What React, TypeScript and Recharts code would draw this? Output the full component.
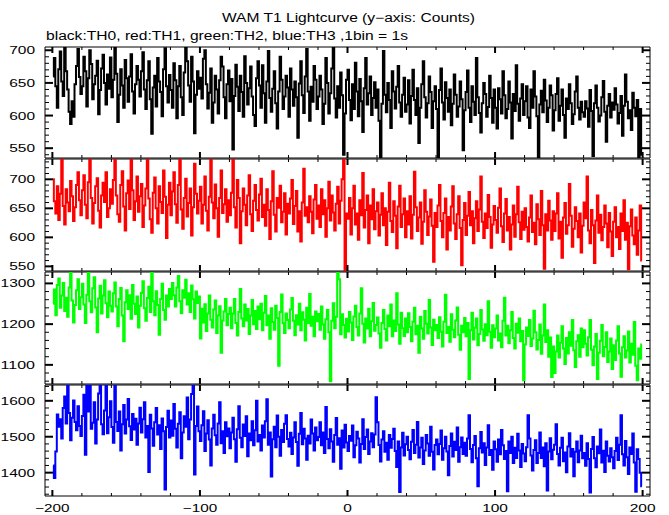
import React from 'react';
import { LineChart, Line, XAxis, YAxis, ReferenceArea } from 'recharts';

// ---- data: counts per 1 s bin, bins start at -200 s ----
const BIN_START = -200;

const th0: number[] = [
  660, 688, 645, 612, 671, 698, 652, 630, 705, 668, 640, 606, 587, 622, 598, 648, 676, 702, 659, 633,
  645, 690, 668, 614, 657, 700, 679, 625, 648, 661, 684, 602, 639, 672, 693, 650, 617, 663, 641, 689,
  628, 655, 707, 664, 590, 632, 671, 646, 612, 685, 657, 621, 660, 694, 637, 603, 648, 676, 655, 629,
  668, 697, 640, 610, 654, 683, 625, 572, 643, 661, 614, 688, 652, 636, 599, 671, 703, 645, 620, 662,
  639, 612, 680, 654, 596, 645, 676, 628, 601, 666, 710, 683, 646, 621, 690, 652, 573, 632, 668, 641,
  658, 626, 687, 700, 648, 611, 635, 672, 589, 620, 661, 640, 603, 654, 690, 675, 628, 596, 648, 669,
  622, 656, 548, 630, 678, 644, 607, 661, 636, 598, 691, 650, 617, 642, 675, 629, 601, 584, 657, 683,
  646, 612, 677, 634, 589, 652, 699, 627, 606, 641, 668, 619, 580, 637, 690, 655, 610, 629, 661, 643,
  598, 672, 640, 615, 652, 628, 566, 649, 683, 631, 604, 660, 702, 637, 592, 644, 621, 676, 655, 610,
  629, 661, 640, 587, 618, 688, 650, 603, 634, 672, 709, 626, 597, 645, 612, 666, 631, 540, 603, 655,
  670, 624, 593, 648, 610, 681, 637, 599, 656, 622, 575, 642, 688, 617, 634, 660, 601, 627, 651, 612,
  640, 592, 534, 618, 699, 632, 605, 650, 624, 581, 668, 637, 611, 644, 676, 620, 598, 632, 658, 606,
  617, 654, 588, 630, 670, 624, 601, 642, 558, 612, 648, 683, 628, 597, 619, 660, 636, 581, 622, 645,
  610, 530, 639, 672, 620, 594, 651, 627, 606, 640, 585, 618, 663, 632, 598, 614, 652, 625, 547, 608,
  636, 669, 612, 590, 645, 621, 601, 688, 628, 604, 574, 619, 650, 633, 598, 613, 661, 627, 589, 640,
  612, 580, 642, 625, 603, 668, 631, 596, 610, 652, 620, 565, 633, 607, 677, 618, 592, 626, 648, 601,
  622, 645, 597, 581, 640, 612, 668, 629, 599, 532, 617, 638, 605, 655, 623, 590, 612, 646, 631, 577,
  608, 633, 657, 592, 615, 640, 601, 566, 626, 610, 648, 619, 587, 602, 637, 660, 612, 594, 621, 605,
  598, 622, 611, 583, 639, 607, 538, 619, 646, 612, 591, 600, 628, 653, 606, 560, 615, 633, 597, 620,
  609, 642, 617, 588, 604, 630, 569, 615, 663, 621, 596, 608, 578, 635, 612, 599, 624, 530, 610, 540,
];

const th1: number[] = [
  700, 662, 641, 688, 630, 675, 736, 654, 622, 683, 660, 645, 697, 671, 628, 652, 690, 712, 664, 638,
  681, 707, 656, 633, 695, 740, 668, 624, 659, 688, 702, 646, 617, 672, 694, 661, 712, 635, 650, 683,
  658, 699, 736, 672, 640, 627, 690, 714, 653, 612, 676, 698, 649, 737, 681, 630, 662, 705, 644, 671,
  692, 618, 655, 684, 736, 667, 631, 608, 677, 703, 650, 624, 688, 661, 642, 715, 670, 599, 656, 694,
  638, 679, 712, 657, 625, 690, 738, 648, 615, 668, 701, 636, 659, 684, 603, 652, 727, 675, 641, 663,
  687, 624, 656, 705, 646, 612, 670, 737, 660, 633, 691, 650, 601, 668, 715, 642, 657, 683, 627, 664,
  638, 677, 735, 652, 617, 699, 668, 590, 645, 684, 656, 621, 672, 707, 640, 611, 663, 690, 647, 629,
  674, 701, 635, 656, 620, 683, 647, 597, 662, 714, 639, 610, 668, 651, 689, 626, 644, 676, 605, 658,
  641, 667, 699, 623, 654, 680, 610, 645, 593, 660, 718, 637, 652, 626, 671, 644, 607, 665, 690, 632,
  655, 618, 683, 640, 664, 601, 650, 696, 629, 672, 643, 612, 658, 687, 624, 663, 700, 738, 540, 641,
  632, 668, 605, 650, 689, 622, 641, 596, 664, 638, 711, 617, 647, 672, 590, 655, 631, 683, 614, 645,
  660, 603, 639, 676, 621, 650, 587, 644, 694, 628, 609, 662, 637, 581, 653, 689, 618, 640, 667, 600,
  645, 622, 671, 598, 639, 713, 652, 611, 634, 660, 589, 627, 681, 644, 604, 636, 665, 620, 558, 642,
  618, 655, 690, 628, 600, 642, 667, 579, 635, 612, 653, 688, 624, 597, 640, 671, 616, 552, 630, 659,
  604, 637, 678, 621, 645, 590, 633, 662, 611, 648, 705, 627, 599, 641, 616, 673, 635, 582, 622, 654,
  630, 608, 651, 684, 619, 592, 641, 666, 612, 635, 579, 622, 655, 601, 640, 687, 626, 597, 644, 613,
  650, 618, 593, 634, 672, 609, 625, 588, 657, 631, 604, 680, 621, 546, 640, 612, 663, 629, 596, 645,
  611, 641, 676, 598, 627, 565, 634, 659, 606, 621, 692, 637, 584, 615, 652, 628, 600, 641, 574, 620,
  660, 633, 705, 612, 590, 647, 621, 556, 629, 672, 608, 639, 595, 618, 655, 624, 583, 642, 610, 568,
  627, 652, 600, 618, 580, 641, 611, 664, 596, 625, 545, 619, 648, 603, 588, 634, 570, 612, 655, 560,
];

const th2: number[] = [
  1250, 1285, 1222, 1296, 1312, 1240, 1270, 1301, 1232, 1265, 1218, 1290, 1330, 1258, 1204, 1247, 1283, 1310, 1237, 1266,
  1299, 1248, 1203, 1272, 1330, 1256, 1229, 1288, 1315, 1241, 1180, 1263, 1294, 1226, 1270, 1308, 1251, 1217, 1280, 1245,
  1231, 1276, 1302, 1243, 1195, 1262, 1289, 1221, 1158, 1254, 1283, 1237, 1271, 1213, 1296, 1250, 1225, 1268, 1192, 1245,
  1277, 1305, 1239, 1208, 1264, 1292, 1230, 1330, 1256, 1222, 1281, 1247, 1174, 1262, 1299, 1235, 1211, 1270, 1243, 1286,
  1262, 1301, 1271, 1243, 1290, 1318, 1256, 1227, 1283, 1265, 1309, 1248, 1276, 1230, 1295, 1261, 1214, 1280, 1252, 1268,
  1165, 1238, 1204, 1249, 1183, 1226, 1270, 1211, 1192, 1236, 1258, 1178, 1221, 1244, 1130, 1209, 1231, 1262, 1197, 1225,
  1240, 1190, 1226, 1262, 1203, 1172, 1230, 1286, 1214, 1195, 1248, 1209, 1237, 1176, 1221, 1259, 1200, 1232, 1188, 1243,
  1212, 1250, 1185, 1228, 1269, 1197, 1221, 1164, 1239, 1205, 1186, 1245, 1215, 1098, 1230, 1273, 1202, 1178, 1226, 1210,
  1190, 1236, 1264, 1208, 1173, 1222, 1199, 1250, 1185, 1229, 1211, 1160, 1240, 1203, 1274, 1196, 1218, 1170, 1231, 1207,
  1225, 1186, 1243, 1199, 1164, 1212, 1235, 1180, 1060, 1208, 1251, 1190, 1218, 1330, 1310, 1175, 1224, 1198, 1167, 1213,
  1182, 1230, 1204, 1161, 1219, 1245, 1193, 1172, 1226, 1288, 1201, 1155, 1214, 1189, 1238, 1170, 1207, 1252, 1184, 1198,
  1216, 1177, 1142, 1203, 1235, 1188, 1160, 1221, 1195, 1248, 1170, 1209, 1183, 1276, 1199, 1152, 1228, 1190, 1171, 1214,
  1180, 1227, 1193, 1158, 1206, 1240, 1175, 1196, 1130, 1218, 1189, 1164, 1232, 1201, 1177, 1259, 1192, 1149, 1211, 1185,
  1198, 1166, 1217, 1181, 1145, 1206, 1272, 1178, 1193, 1157, 1224, 1186, 1168, 1209, 1241, 1174, 1137, 1196, 1180, 1215,
  1170, 1203, 1065, 1185, 1228, 1162, 1191, 1214, 1148, 1176, 1235, 1187, 1159, 1200, 1173, 1256, 1181, 1142, 1197, 1168,
  1189, 1221, 1160, 1177, 1143, 1208, 1265, 1172, 1196, 1153, 1185, 1230, 1166, 1140, 1201, 1179, 1214, 1158, 1183, 1062,
  1150, 1192, 1171, 1210, 1146, 1165, 1233, 1180, 1138, 1161, 1199, 1127, 1172, 1248, 1156, 1185, 1120, 1167, 1070, 1145,
  1080, 1133, 1172, 1118, 1154, 1195, 1140, 1102, 1166, 1128, 1180, 1147, 1210, 1136, 1095, 1158, 1173, 1120, 1189, 1143,
  1185, 1152, 1123, 1168, 1210, 1137, 1099, 1145, 1176, 1065, 1130, 1159, 1198, 1121, 1144, 1180, 1107, 1133, 1165, 1090,
  1148, 1112, 1160, 1195, 1128, 1071, 1143, 1170, 1118, 1135, 1182, 1106, 1152, 1125, 1205, 1098, 1062, 1140, 1115, 1150,
];

const th3: number[] = [
  1420, 1385, 1459, 1562, 1528, 1549, 1495, 1580, 1612, 1537, 1644, 1566, 1490, 1553, 1601, 1541, 1518, 1585, 1530, 1502,
  1558, 1617, 1450, 1644, 1570, 1644, 1522, 1539, 1596, 1481, 1548, 1620, 1644, 1535, 1507, 1573, 1644, 1510, 1554, 1599,
  1527, 1483, 1644, 1541, 1516, 1570, 1462, 1535, 1588, 1509, 1548, 1605, 1529, 1491, 1563, 1520, 1550, 1478, 1537, 1581,
  1512, 1549, 1596, 1498, 1530, 1402, 1561, 1523, 1475, 1540, 1580, 1506, 1532, 1466, 1551, 1515, 1353, 1527, 1572, 1498,
  1545, 1503, 1591, 1522, 1470, 1536, 1568, 1440, 1512, 1557, 1528, 1609, 1493, 1548, 1619, 1644, 1395, 1530, 1584, 1515,
  1488, 1532, 1571, 1460, 1509, 1546, 1492, 1420, 1523, 1561, 1504, 1478, 1537, 1596, 1482, 1515, 1455, 1540, 1501, 1523,
  1468, 1512, 1553, 1493, 1430, 1521, 1585, 1497, 1471, 1534, 1502, 1557, 1446, 1509, 1490, 1543, 1476, 1518, 1600, 1487,
  1505, 1462, 1531, 1498, 1543, 1604, 1478, 1512, 1389, 1493, 1528, 1471, 1559, 1500, 1447, 1519, 1485, 1536, 1560, 1494,
  1473, 1511, 1452, 1498, 1540, 1485, 1419, 1508, 1566, 1479, 1522, 1495, 1436, 1503, 1481, 1548, 1509, 1462, 1526, 1490,
  1499, 1540, 1476, 1512, 1455, 1583, 1494, 1468, 1521, 1487, 1430, 1505, 1552, 1478, 1496, 1411, 1517, 1470, 1533, 1484,
  1460, 1502, 1489, 1531, 1443, 1476, 1514, 1495, 1428, 1480, 1549, 1466, 1499, 1520, 1452, 1487, 1510, 1471, 1506, 1610,
  1540, 1477, 1431, 1492, 1515, 1458, 1483, 1436, 1505, 1469, 1494, 1522, 1460, 1416, 1487, 1346, 1470, 1511, 1448, 1479,
  1500, 1463, 1437, 1486, 1519, 1455, 1478, 1541, 1442, 1470, 1497, 1424, 1462, 1505, 1481, 1447, 1528, 1458, 1409, 1477,
  1492, 1451, 1480, 1517, 1436, 1468, 1500, 1459, 1393, 1474, 1509, 1445, 1486, 1463, 1526, 1430, 1471, 1498, 1452, 1483,
  1447, 1495, 1560, 1466, 1429, 1477, 1502, 1440, 1362, 1468, 1513, 1456, 1482, 1421, 1470, 1532, 1449, 1463, 1408, 1487,
  1465, 1430, 1492, 1451, 1519, 1476, 1438, 1460, 1348, 1487, 1455, 1500, 1427, 1469, 1441, 1508, 1462, 1416, 1480, 1453,
  1432, 1471, 1560, 1495, 1448, 1406, 1463, 1490, 1427, 1455, 1512, 1441, 1470, 1418, 1482, 1350, 1459, 1496, 1437, 1464,
  1478, 1535, 1452, 1420, 1469, 1497, 1432, 1456, 1401, 1473, 1510, 1445, 1466, 1390, 1458, 1487, 1429, 1462, 1503, 1440,
  1455, 1419, 1482, 1438, 1345, 1466, 1499, 1440, 1415, 1473, 1454, 1520, 1428, 1461, 1402, 1487, 1447, 1431, 1468, 1443,
  1412, 1460, 1497, 1435, 1478, 1560, 1451, 1420, 1488, 1443, 1396, 1470, 1452, 1509, 1428, 1347, 1465, 1438, 1400, 1362,
];

const X_TICKS = [-200, -180, -160, -140, -120, -100, -80, -60, -40, -20, 0, 20, 40, 60, 80, 100, 120, 140, 160, 180, 200];
const X_LABELS = [-200, -100, 0, 100, 200];

const range = (a: number, b: number, s: number) => {
  const out: number[] = [];
  for (let v = a; v <= b; v += s) out.push(v);
  return out;
};

const TITLE = 'WAM T1 Lightcurve (y\u2212axis: Counts)';
const SUBTITLE = 'black:TH0, red:TH1, green:TH2, blue:TH3 ,1bin = 1s';

// ---- layout ----
const W = 669;
const H = 515;
const FRAME_L = 45;
const FRAME_R = 650;
const PAD_T = 4;
const FONT = '"Liberation Sans", Arial, Helvetica, sans-serif';

type Panel = {
  name: string;
  values: number[];
  color: string;
  width: number;
  domain: [number, number];
  ticks: number[];
  major: number;
  top: number;
  bottom: number;
  labels: boolean;
};

const panels: Panel[] = [
  { name: 'TH0', values: th0, color: '#000000', width: 2, domain: [535, 705], ticks: range(540, 700, 10), major: 50, top: 47, bottom: 158, labels: false },
  { name: 'TH1', values: th1, color: '#ff0000', width: 2, domain: [542, 735], ticks: range(550, 730, 10), major: 50, top: 159, bottom: 271, labels: false },
  { name: 'TH2', values: th2, color: '#00ff00', width: 2, domain: [1053, 1328], ticks: range(1060, 1320, 20), major: 100, top: 272, bottom: 384, labels: false },
  { name: 'TH3', values: th3, color: '#0000ff', width: 2, domain: [1335, 1644], ticks: range(1340, 1640, 20), major: 100, top: 385, bottom: 496, labels: true },
];

const fmt = (v: number) => String(v).replace('-', '\u2212');

function PanelChart({ p }: { p: Panel }) {
  const plotH = p.bottom - p.top;
  const padB = p.labels ? 19 : 4;
  const height = PAD_T + plotH + padB;
  const plotTop = PAD_T;
  const plotBottom = PAD_T + plotH;
  const data = p.values.map((v, i) => ({ t: BIN_START + i + 0.5, v }));

  const yTick = (props: any) => {
    const { y, payload } = props;
    const v = payload.value as number;
    const isMajor = v % p.major === 0;
    const len = isMajor ? 8 : 4;
    const sw = isMajor ? 2 : 1;
    const label = fmt(v);
    return (
      <g>
        <line x1={FRAME_L} x2={FRAME_L + len} y1={y} y2={y} stroke="#000" strokeWidth={sw} />
        <line x1={FRAME_R} x2={FRAME_R - len} y1={y} y2={y} stroke="#000" strokeWidth={sw} />
        {isMajor && (
          <text x={35} y={y + 4} textAnchor="end" fontFamily={FONT} fontSize={11} fill="#000"
            textLength={label.length * 8.6} lengthAdjust="spacingAndGlyphs">{label}</text>
        )}
      </g>
    );
  };

  const xTick = (props: any) => {
    const { x, payload } = props;
    const v = payload.value as number;
    const isMajor = v % 100 === 0;
    const len = isMajor ? 6 : 3;
    const sw = isMajor ? 2 : 1;
    const label = fmt(v);
    return (
      <g>
        <line x1={x} x2={x} y1={plotBottom} y2={plotBottom - len} stroke="#000" strokeWidth={sw} />
        <line x1={x} x2={x} y1={plotTop} y2={plotTop + len} stroke="#000" strokeWidth={sw} />
        {p.labels && X_LABELS.includes(v) && (
          <text x={x} y={plotBottom + 15.5} textAnchor="middle" fontFamily={FONT} fontSize={11} fill="#000"
            textLength={label.length * 8.6} lengthAdjust="spacingAndGlyphs">{label}</text>
        )}
      </g>
    );
  };

  return (
    <div style={{ position: 'absolute', left: 0, top: p.top - PAD_T }}>
      <LineChart width={W} height={height} data={data}
        margin={{ top: PAD_T, right: W - FRAME_R, bottom: 0, left: 0 }}>
        <XAxis dataKey="t" type="number" domain={[-205, 205]} allowDataOverflow ticks={X_TICKS}
          interval={0} height={padB} axisLine={false} tickLine={false} tick={xTick} />
        <YAxis type="number" domain={p.domain} allowDataOverflow ticks={p.ticks} interval={0}
          width={FRAME_L} axisLine={false} tickLine={false} tick={yTick} />
        <ReferenceArea x1={-205} x2={205} y1={p.domain[0]} y2={p.domain[1]} fill="none"
          stroke="#000" strokeWidth={1} ifOverflow="visible" />
        <Line type="step" dataKey="v" name={p.name} stroke={p.color} strokeWidth={p.width}
          dot={false} activeDot={false} isAnimationActive={false} />
      </LineChart>
    </div>
  );
}

export default function App() {
  return (
    <div style={{ position: 'absolute', left: 0, top: 0, width: W, height: H, background: '#fff' }}>
      <svg width={W} height={60} style={{ position: 'absolute', left: 0, top: 0 }}>
        <text x={348.5} y={22} textAnchor="middle" fontFamily={FONT} fontSize={12} fill="#000"
          textLength={253} lengthAdjust="spacingAndGlyphs">{TITLE}</text>
        <text x={46} y={40} textAnchor="start" fontFamily={FONT} fontSize={12} fill="#000"
          textLength={362} lengthAdjust="spacingAndGlyphs">{SUBTITLE}</text>
      </svg>
      {panels.map((p) => (
        <PanelChart key={p.name} p={p} />
      ))}
    </div>
  );
}
